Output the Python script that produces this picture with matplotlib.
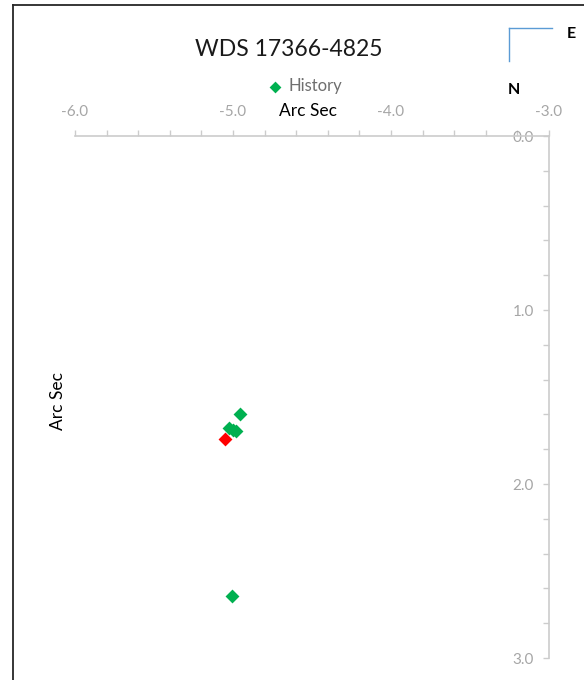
import matplotlib.pyplot as plt
from matplotlib.lines import Line2D

plt.rcParams['font.family'] = ['Lato', 'DejaVu Sans']

# measurement history (arc sec)
hist_x = [-4.955, -5.023, -4.980, -5.001, -5.008]
hist_y = [1.599, 1.680, 1.694, 1.690, 2.642]
# latest measurement
last_x = [-5.048]
last_y = [1.743]

title = 'WDS 17366-4825'

W, H = 584, 680
fig = plt.figure(figsize=(W / 100, H / 100), dpi=100)
ax = fig.add_axes([75 / W, 1 - 658 / H, (549 - 75) / W, (658 - 136) / H])

axis_col = '#cccccc'
label_col = '#a6a6a6'

ax.scatter(hist_x, hist_y, marker='D', s=50, color='#00b050', lw=0,
           label='History', zorder=3)
ax.scatter(last_x, last_y, marker='D', s=50, color='#ff0000', lw=0, zorder=4)

ax.set_xlim(-6.0, -3.0)
ax.set_ylim(3.0, 0.0)

# axes cross at (-3, 0): x axis on top, y axis on the right edge
ax.spines['bottom'].set_visible(False)
ax.spines['right'].set_visible(False)
ax.spines['top'].set_color(axis_col)
ax.spines['left'].set_color(axis_col)
ax.spines['top'].set_linewidth(1.2)
ax.spines['left'].set_linewidth(1.2)
ax.spines['left'].set_position(('data', -3.0))

xt = [-6.0 + 0.2 * i for i in range(16)]
yt = [0.2 * i for i in range(16)]
ax.xaxis.tick_top()
ax.set_xticks(xt)
ax.set_xticklabels(['%.1f' % v if abs(v - round(v)) < 1e-6 else '' for v in xt])
ax.set_yticks(yt)
ax.set_yticklabels(['%.1f' % v if abs(v - round(v)) < 1e-6 else '' for v in yt])
ax.tick_params(axis='x', direction='out', length=4, width=1, color=axis_col,
               labelcolor=label_col, labelsize=11, pad=8)
ax.tick_params(axis='y', direction='out', length=4, width=1, color=axis_col,
               labelcolor=label_col, labelsize=11, pad=7)

fig.text(289 / W, 1 - 50 / H, title, ha='center', va='center', fontsize=16.5,
         color='#1a1a1a')
fig.text(308 / W, 1 - 111 / H, 'Arc Sec', ha='center', va='center',
         fontsize=12.5, color='black')
fig.text(58 / W, 1 - 401 / H, 'Arc Sec', ha='center', va='center',
         fontsize=12.5, rotation=90, color='black')

ax.legend(loc='center', bbox_to_anchor=(306 / W, 1 - 86 / H),
          bbox_transform=fig.transFigure, frameon=False, fontsize=12,
          handletextpad=0.55, borderpad=0, handlelength=0.6,
          labelcolor='#6f6f6f', markerscale=0.85)

# compass
tr = fig.transFigure
comp = '#5b9bd5'
fig.add_artist(Line2D([509 / W, 551.5 / W], [1 - 27.5 / H, 1 - 27.5 / H],
                      transform=tr, color=comp, lw=1))
fig.add_artist(Line2D([509 / W, 509 / W], [1 - 27.5 / H, 1 - 61 / H],
                      transform=tr, color=comp, lw=1))
fig.text(571 / W, 1 - 34 / H, 'E', ha='center', va='center', fontsize=11.5,
         fontweight='bold')
fig.text(514 / W, 1 - 90 / H, 'N', ha='center', va='center', fontsize=11.5,
         fontweight='bold')

# chart border (cropped at right and bottom)
fig.add_artist(Line2D([13 / W, 13 / W], [1 - 5 / H, 0], transform=tr,
                      color='#262626', lw=1.3))
fig.add_artist(Line2D([13 / W, 1], [1 - 5 / H, 1 - 5 / H], transform=tr,
                      color='#262626', lw=1.3))

fig.savefig('out.png', dpi=100)
